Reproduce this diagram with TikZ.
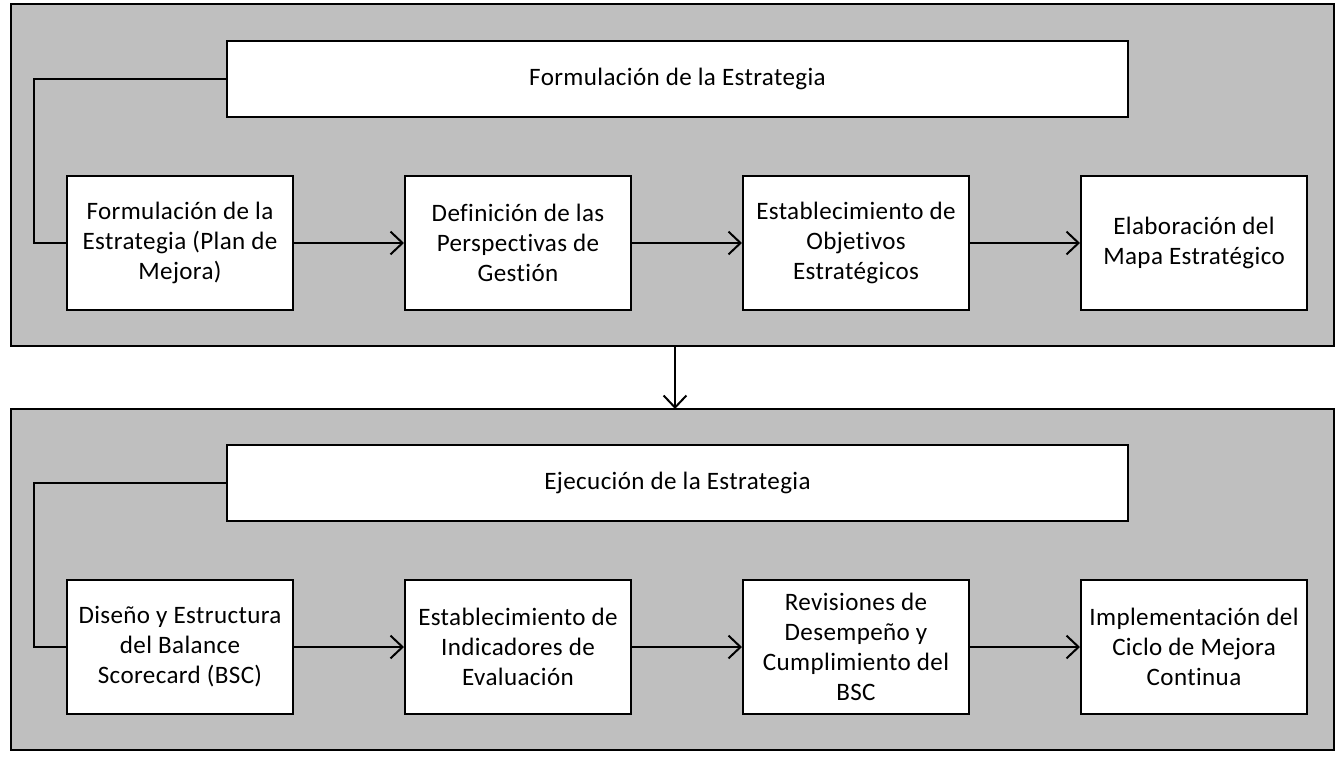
\documentclass[tikz,border=0pt]{standalone}
\usepackage{fontspec}
\setmainfont{Carlito}[Ligatures={NoCommon},LetterSpace=1.5]
\usetikzlibrary{arrows.meta}
\definecolor{panelgray}{HTML}{BFBFBF}
\begin{document}
\begin{tikzpicture}[x=0.75pt,y=-0.75pt,
  panel/.style={draw=black,line width=1.5pt,fill=panelgray},
  stepbox/.style={draw=black,line width=1.5pt,fill=white,minimum width=169.5pt,minimum height=100.5pt,inner sep=0pt,align=center,font=\fontsize{18.8}{22.5}\selectfont},
  titlebox/.style={draw=black,line width=1.5pt,fill=white,minimum width=675.75pt,minimum height=57pt,inner sep=0pt,align=center,font=\fontsize{18.8}{22.5}\selectfont},
  link/.style={draw=black,line width=1.5pt},
  arr/.style={link,-{Straight Barb[length=9pt,width=17pt,line width=1.5pt]}}
]
\useasboundingbox (0,0) rectangle (1344,756);
\fill[white] (0,0) rectangle (1344,756);
% panels
\draw[panel] (11,4) rectangle (1334,346);
\draw[panel] (11,409) rectangle (1334,750);
\coordinate (topbot) at (675,346);
\coordinate (bottop) at (675,409);
% top panel
\node[titlebox] (t1) at (677.5,79) {Formulación de la Estrategia};
\node[stepbox] (a1) at (180,243) {Formulación de la\\Estrategia (Plan de\\Mejora)};
\node[stepbox] (a2) at (518,243) {Definición de las\\Perspectivas de\\Gestión};
\node[stepbox] (a3) at (856,243) {Establecimiento de\\Objetivos\\Estratégicos};
\node[stepbox] (a4) at (1194,243) {Elaboración del\\Mapa Estratégico};
\coordinate (fa) at (34,79);
\coordinate (fb) at (34,243);
\draw[link] (t1.west) -- (fa) -- (fb) -- (a1.west);
\draw[arr] (a1) -- (a2);
\draw[arr] (a2) -- (a3);
\draw[arr] (a3) -- (a4);
% connector between panels
\draw[arr] (topbot) -- (bottop);
% bottom panel
\node[titlebox] (t2) at (677.5,483) {Ejecución de la Estrategia};
\node[stepbox] (b1) at (180,647) {Diseño y Estructura\\del Balance\\Scorecard (BSC)};
\node[stepbox] (b2) at (518,647) {Establecimiento de\\Indicadores de\\Evaluación};
\node[stepbox] (b3) at (856,647) {Revisiones de\\Desempeño y\\Cumplimiento del\\BSC};
\node[stepbox] (b4) at (1194,647) {Implementación del\\Ciclo de Mejora\\Continua};
\coordinate (fc) at (34,483);
\coordinate (fd) at (34,647);
\draw[link] (t2.west) -- (fc) -- (fd) -- (b1.west);
\draw[arr] (b1) -- (b2);
\draw[arr] (b2) -- (b3);
\draw[arr] (b3) -- (b4);
\end{tikzpicture}
\end{document}
